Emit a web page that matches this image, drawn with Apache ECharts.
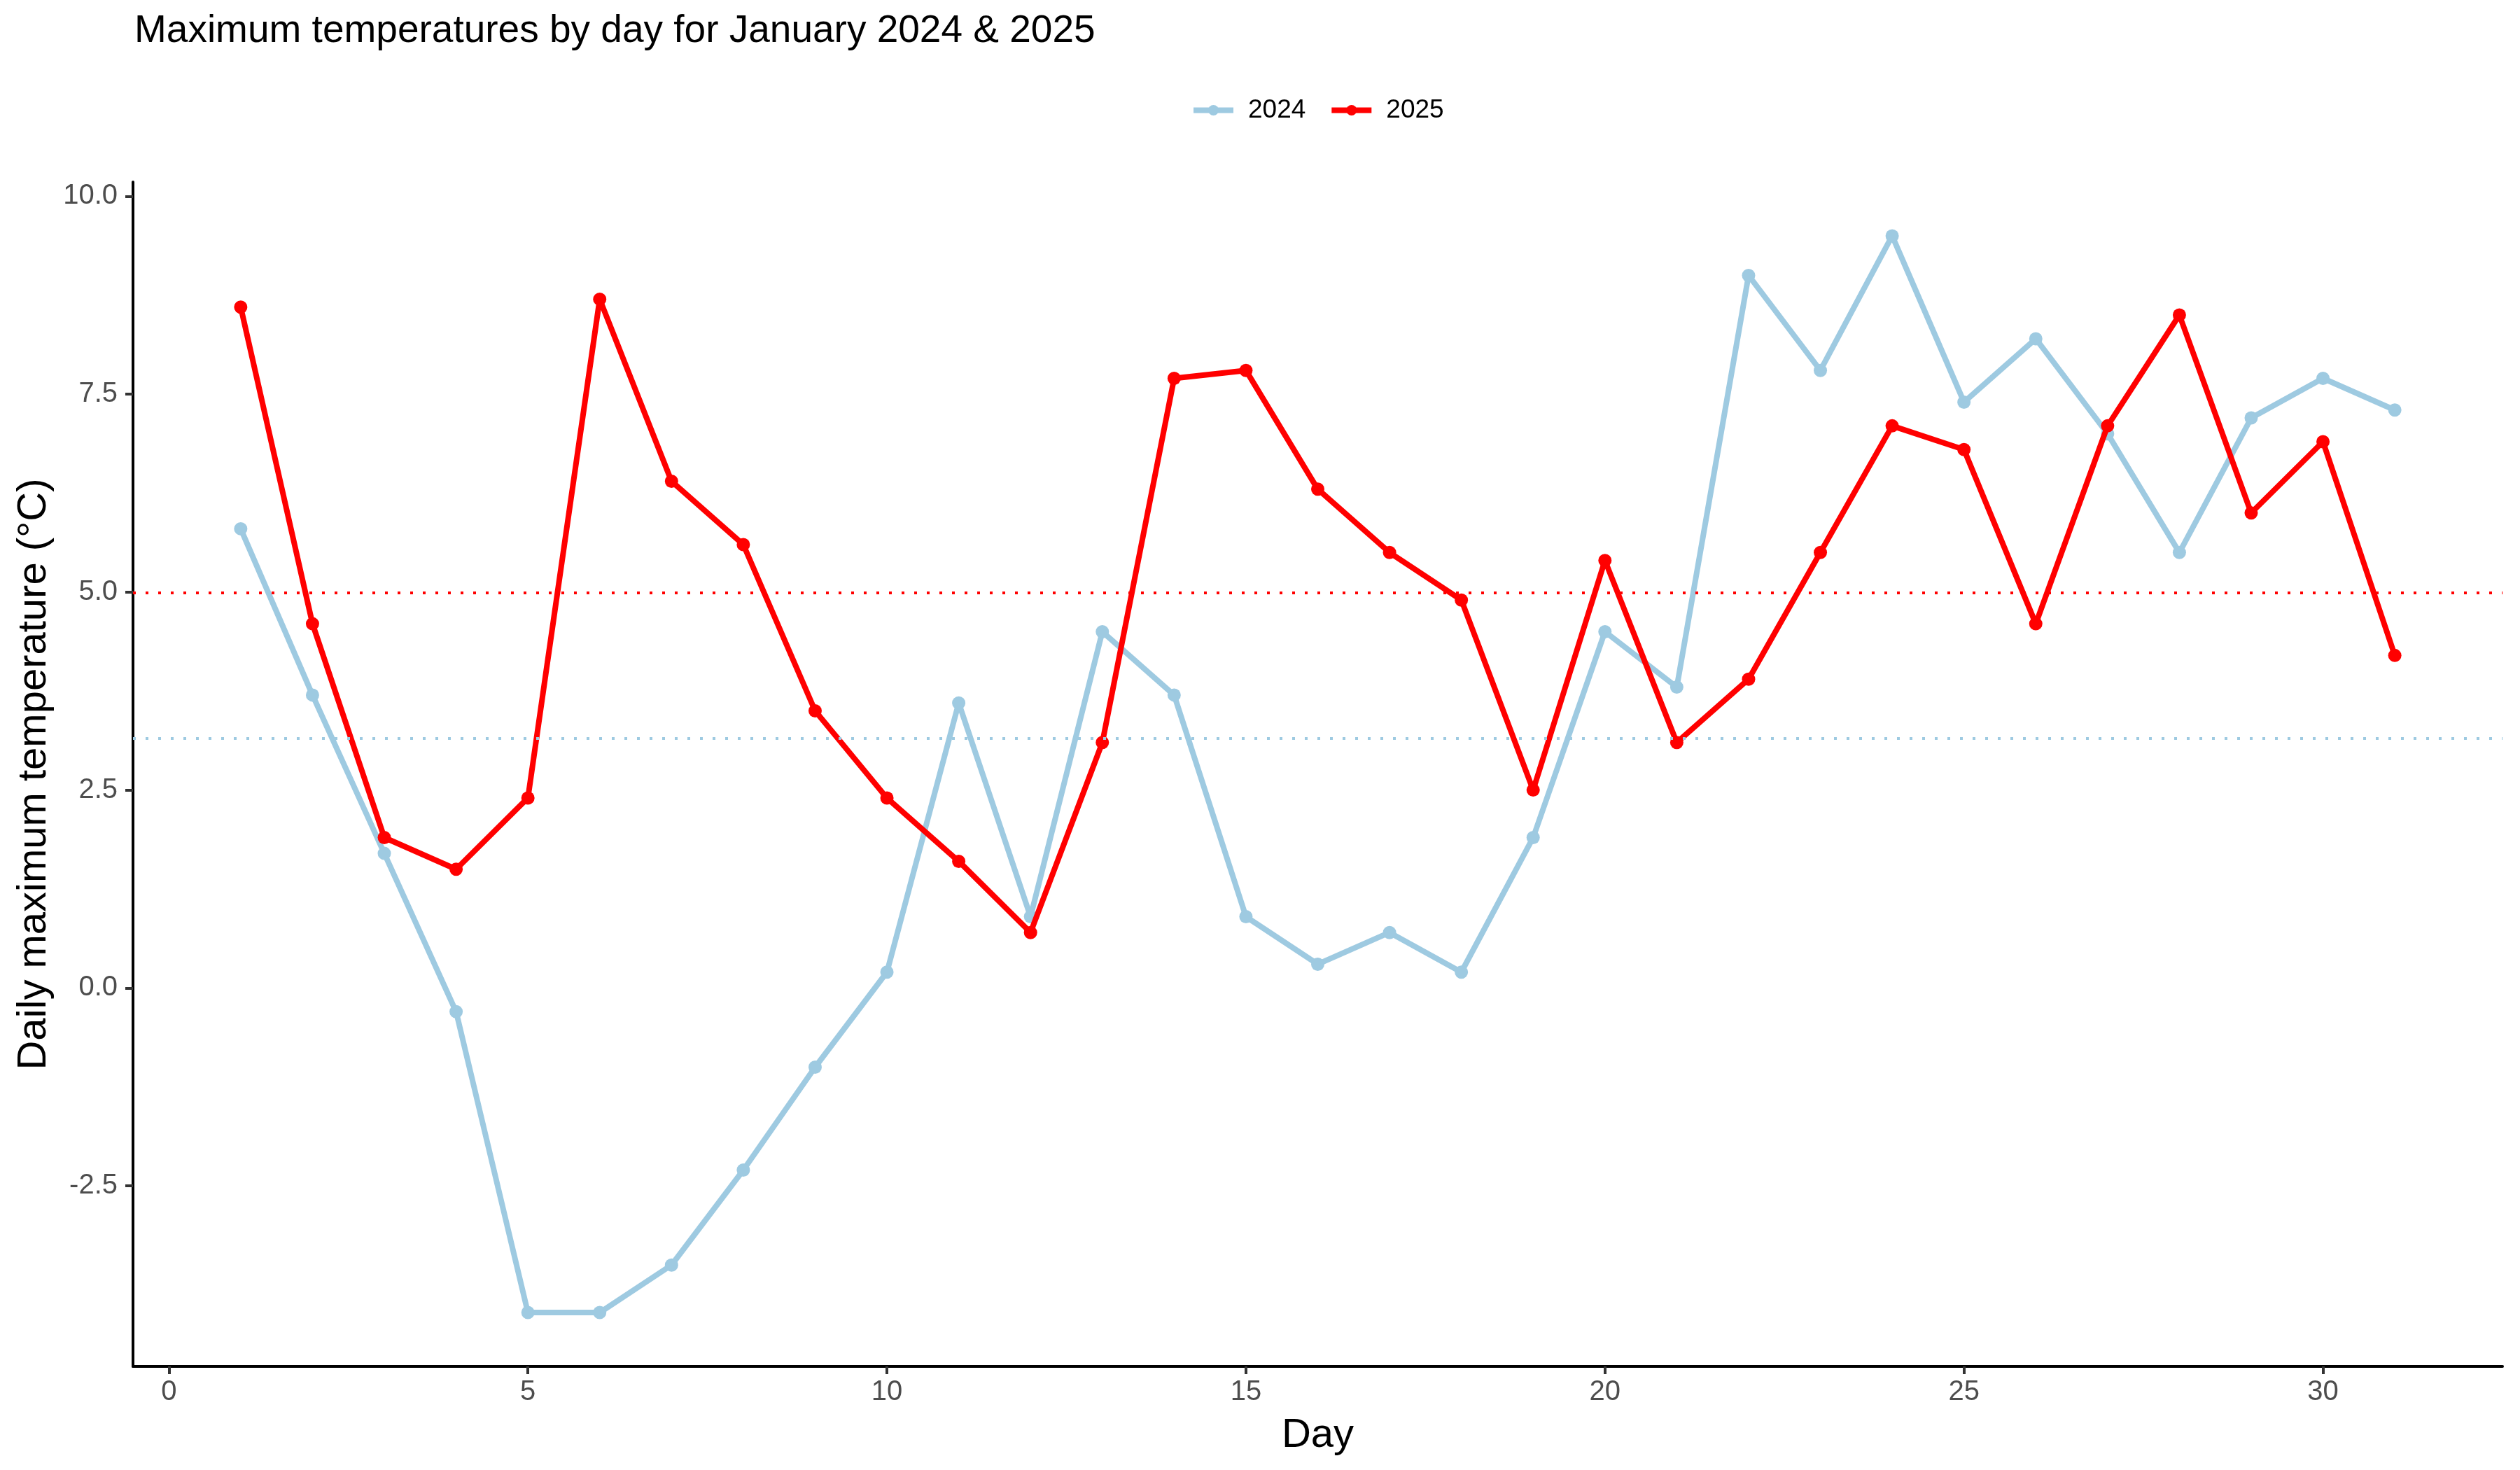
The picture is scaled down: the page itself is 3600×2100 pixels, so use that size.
<!DOCTYPE html>
<html>
<head>
<meta charset="utf-8">
<script src="https://cdn.jsdelivr.net/npm/echarts@6/dist/echarts.min.js"></script>
<style>
html, body { margin: 0; padding: 0; background: #ffffff; }
#chart { width: 3600px; height: 2100px; }
</style>
</head>
<body>
<div id="chart"></div>
<script>
const days = [1,2,3,4,5,6,7,8,9,10,11,12,13,14,15,16,17,18,19,20,21,22,23,24,25,26,27,28,29,30,31];
const temp2024 = [5.8,3.7,1.7,-0.3,-4.1,-4.1,-3.5,-2.3,-1.0,0.2,3.6,0.9,4.5,3.7,0.9,0.3,0.7,0.2,1.9,4.5,3.8,9.0,7.8,9.5,7.4,8.2,7.0,5.5,7.2,7.7,7.3];
const temp2025 = [8.6,4.6,1.9,1.5,2.4,8.7,6.4,5.6,3.5,2.4,1.6,0.7,3.1,7.7,7.8,6.3,5.5,4.9,2.5,5.4,3.1,3.9,5.5,7.1,6.8,4.6,7.1,8.5,6.0,6.9,4.2];
const xTicks = [0,5,10,15,20,25,30];
const yTicks = [-2.5,0,2.5,5,7.5,10];
const seriesNames = ['2024','2025'];
const titleText = 'Maximum temperatures by day for January 2024 & 2025';

const FONT = 'Liberation Sans, Arial, sans-serif';
const C2024 = '#9ECAE1';
const C2025 = '#FF0000';

function pairs(vals) { return days.map((d, i) => [d, vals[i]]); }

function makeSeries(name, vals, color) {
  return {
    name: name,
    type: 'line',
    data: pairs(vals),
    symbol: 'circle',
    symbolSize: 19,
    showSymbol: true,
    itemStyle: { color: color },
    lineStyle: { color: color, width: 8 },
    emphasis: { disabled: true },
    markLine: {
      silent: true,
      symbol: ['none','none'],
      label: { show: false },
      lineStyle: { color: color, width: 4, type: [4, 14] },
      data: [{ type: 'average' }],
      animation: false
    },
    z: name === '2025' ? 3 : 2
  };
}

const chart = echarts.init(document.getElementById('chart'), null, { renderer: 'canvas' });
chart.setOption({
  animation: false,
  backgroundColor: '#ffffff',
  title: {
    text: titleText,
    left: 187,
    top: 12,
    textStyle: { fontFamily: FONT, fontSize: 55, fontWeight: 'normal', color: '#000000' }
  },
  legend: {
    data: seriesNames,
    top: 139,
    left: 1701,
    padding: 0,
    itemWidth: 57,
    itemHeight: 19,
    itemGap: 33,
    lineStyle: { width: 8 },
    textStyle: { fontFamily: FONT, fontSize: 37, color: '#000000', padding: [0, 0, 0, 16] }
  },
  grid: { left: 190, right: 25, top: 260, bottom: 148, containLabel: false },
  xAxis: {
    type: 'value',
    min: -0.5,
    max: 32.5,
    name: 'Day',
    nameLocation: 'middle',
    nameGap: 70,
    nameTextStyle: { fontFamily: FONT, fontSize: 58, color: '#000000' },
    axisLine: { onZero: false, lineStyle: { color: '#000000', width: 4 } },
    axisTick: { show: true, length: 11, lineStyle: { color: '#333333', width: 4 }, customValues: xTicks },
    axisLabel: { fontFamily: FONT, fontSize: 40, color: '#4D4D4D', margin: 17, customValues: xTicks, formatter: v => String(v) },
    splitLine: { show: false }
  },
  yAxis: {
    type: 'value',
    min: -4.78,
    max: 10.18,
    name: 'Daily maximum temperature (°C)',
    nameLocation: 'middle',
    nameGap: 112,
    nameRotate: 90,
    nameTextStyle: { fontFamily: FONT, fontSize: 58, color: '#000000' },
    axisLine: { show: true, onZero: false, lineStyle: { color: '#000000', width: 4 } },
    axisTick: { show: true, length: 11, lineStyle: { color: '#333333', width: 4 }, customValues: yTicks },
    axisLabel: { fontFamily: FONT, fontSize: 40, color: '#4D4D4D', margin: 22, customValues: yTicks, formatter: v => Number(v).toFixed(1) },
    splitLine: { show: false }
  },
  series: [
    makeSeries('2024', temp2024, C2024),
    makeSeries('2025', temp2025, C2025)
  ]
});
</script>
</body>
</html>
